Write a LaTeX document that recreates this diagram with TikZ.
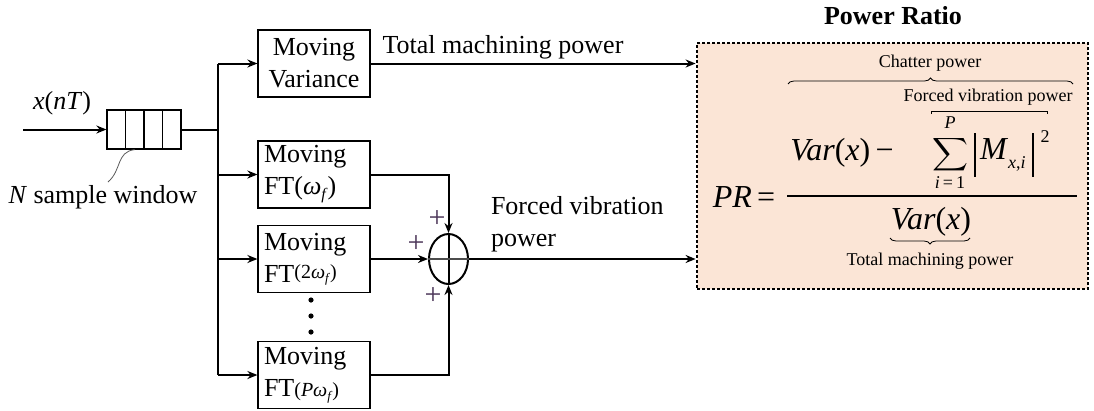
\documentclass[tikz,border=0pt]{standalone}
\usepackage{fontspec}
\setmainfont{Liberation Serif}
\usetikzlibrary{arrows.meta,shapes.geometric,decorations.pathreplacing,calc}
\definecolor{peach}{HTML}{FBE5D6}
\definecolor{plusc}{HTML}{4B3558}
\begin{document}
\begin{tikzpicture}[x=1pt,y=-1pt,line width=2pt,
  >={Stealth[length=10pt,width=8pt]},
  main/.style={font=\fontsize{26}{32}\selectfont},
  big/.style={font=\fontsize{32}{34}\selectfont},
  small/.style={font=\fontsize{18}{20}\selectfont},
  blk/.style={draw,line width=1.2pt,minimum width=112pt,minimum height=67pt,main,inner sep=0pt},
  ftblk/.style={blk,align=left,text width=100pt},
  pls/.style={text=plusc,font=\fontsize{30}{30}\selectfont,inner sep=0pt},
  prbox/.style={draw,fill=peach,line width=2.8pt,dash pattern=on 2.8pt off 2.2pt,minimum width=391pt,minimum height=246pt,inner sep=0pt},
  brc/.style={line width=0.8pt,decorate,decoration={brace,amplitude=6pt}},
  txt/.style={inner sep=0pt}]
\useasboundingbox (0,0) rectangle (1094,410);

% power ratio box
\node[prbox] (pr) at (892.5,166) {};
\node[txt,font=\fontsize{26}{28}\selectfont\bfseries] (prt) at (893,16) {Power Ratio};

% input and window
\coordinate (in) at (23,129.5);
\node[txt,main] (xn) at (62,103) {\textit{x}(\textit{nT})};
\node[draw,line width=1.2pt,minimum width=74pt,minimum height=39pt,inner sep=0pt] (win) at (144,129.5) {};
\foreach \f in {0.25,0.5,0.75}
  \draw[line width=1.2pt] ($(win.north west)!\f!(win.north east)$) -- ($(win.south west)!\f!(win.south east)$);
\draw[->] (in) -- (win.west);
\coordinate (wtap) at ($(win.south west)!0.375!(win.south east)$);
\coordinate (wlab) at (108,182);
\draw[line width=0.8pt,gray!70!black] (wtap) .. controls (116,152) and (122,170) .. (wlab);
\node[txt,main] (nsw) at (103,197) {\textit{N} sample window};

% blocks
\node[blk,align=center] (var) at (314,63.5) {Moving\\Variance};
\node[ftblk] (ft1) at (314,174.5) {Moving\\FT(\textit{ω}\raisebox{-5pt}{\fontsize{16}{16}\selectfont\textit{f}})};
\node[ftblk] (ft2) at (314,259) {Moving\\FT\raisebox{4pt}{\fontsize{20}{20}\selectfont(2\textit{ω}\raisebox{-4pt}{\fontsize{13}{13}\selectfont\textit{f}})}};
\node[ftblk] (ftp) at (314,375) {Moving\\FT{\fontsize{20}{20}\selectfont(\textit{Pω}\raisebox{-4pt}{\fontsize{13}{13}\selectfont\textit{f}})}};
\foreach \yy in {300,316,332}
  \fill (311,\yy) circle (2.6pt);

% bus
\coordinate (bus) at (218,129.5);
\coordinate (bt) at (218,63.5);
\coordinate (bb) at (218,375);
\draw (win.east) -- (bus);
\draw (bt) -- (bb);
\draw[->] (bt) -- (var.west);
\draw[->] (bus |- ft1.west) -- (ft1.west);
\draw[->] (bus |- ft2.west) -- (ft2.west);
\draw[->] (bb) -- (ftp.west);

% summing junction
\node[draw,ellipse,minimum width=39pt,minimum height=50pt,inner sep=0pt] (sum) at (448.5,259) {};
\draw (sum.north) -- (sum.south);
\draw[line width=1.4pt,gray!60!black] (sum.west) -- (sum.east);
\draw[->] (ft1.east) -| (sum.north);
\draw[->] (ft2.east) -- (sum.west);
\draw[->] (ftp.east) -| (sum.south);
\node[pls] (p1) at (437,219) {+};
\node[pls] (p2) at (416,244) {+};
\node[pls] (p3) at (433,296) {+};

% outputs
\draw[->] (var.east) -- (var.east -| pr.west);
\draw[->] (sum.east) -- (sum.east -| pr.west);
\node[txt,main] (tmp) at (503,47) {Total machining power};
\node[txt,main,align=left,anchor=west] (fvp) at (490,224) {Forced vibration\\power};

% formula
\node[txt,big] (preq) at (744,197) {\textit{PR}\,=};
\coordinate (fl) at (787,196);
\coordinate (fr) at (1077,196);
\draw[line width=1.4pt] (fl) -- (fr);
\node[txt,big] (num) at (842,153) {\textit{Var}(\textit{x})\,−};
\node[txt] (sig) at (950,155) {\resizebox*{36pt}{37pt}{$\displaystyle\sum$}};
\node[txt,small] (sp) at (950,123) {\textit{P}};
\node[txt,small] (sl) at (950,183) {\textit{i}\,=\,1};
\coordinate (b1t) at (975,133);
\coordinate (b1b) at (975,177);
\coordinate (b2t) at (1033,133);
\coordinate (b2b) at (1033,177);
\draw[line width=1.3pt] (b1t) -- (b1b);
\draw[line width=1.3pt] (b2t) -- (b2b);
\node[txt,big,anchor=west] (mm) at (979,155) {\textit{M}\raisebox{-9pt}{\fontsize{18}{18}\selectfont\textit{x},\textit{i}}};
\node[txt,small] (sq) at (1045,137) {2};
\node[txt,big] (den) at (931,222) {\textit{Var}(\textit{x})};
\coordinate (u1) at (890,238);
\coordinate (u2) at (970,238);
\draw[brc,decoration={mirror}] (u1) -- (u2);
\node[txt,small] (tmp2) at (930,261) {Total machining power};
\coordinate (c1) at (788,84);
\coordinate (c2) at (1073,84);
\draw[brc] (c1) -- (c2);
\node[txt,small] (chp) at (930,63) {Chatter power};
\coordinate (f1) at (931,114);
\coordinate (f2) at (1047,114);
\draw[line width=0.8pt] (f1) -- ++(0,-3) -| (f2);
\node[txt,small] (fvp2) at (988,97) {Forced vibration power};
\end{tikzpicture}
\end{document}
